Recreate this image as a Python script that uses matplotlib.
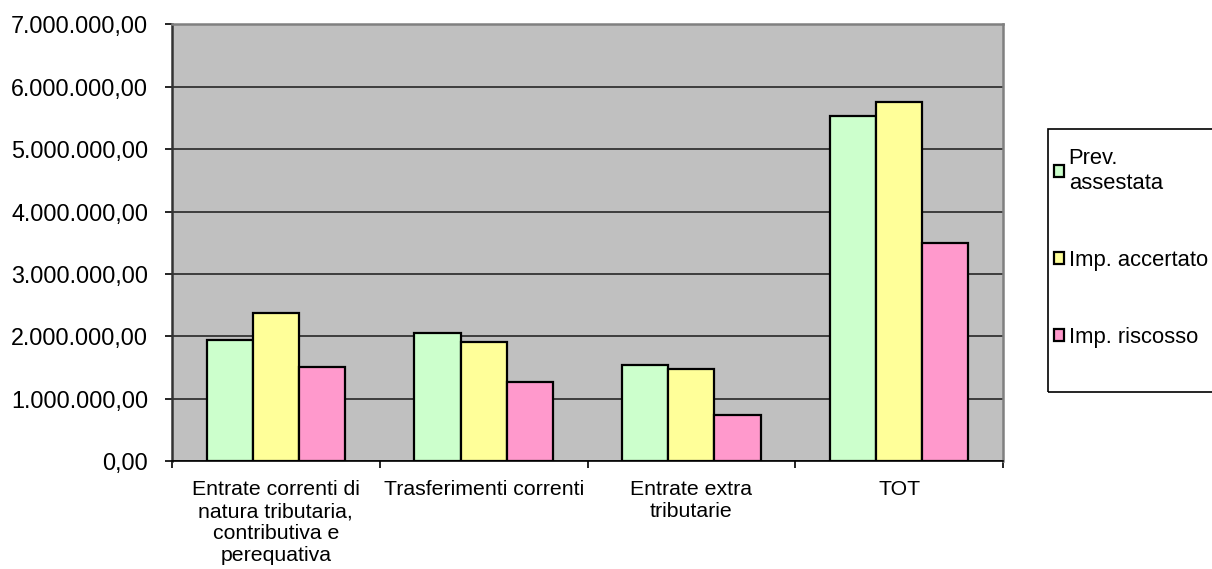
import numpy as np
import matplotlib.pyplot as plt
from matplotlib.patches import Rectangle
from matplotlib.ticker import FuncFormatter, FixedLocator

plt.rcParams['font.family'] = ['Liberation Sans', 'DejaVu Sans']

categorie = ["Entrate correnti di\nnatura tributaria,\ncontributiva e\nperequativa",
             "Trasferimenti correnti",
             "Entrate extra\ntributarie",
             "TOT"]
serie = ["Prev.\nassestata", "Imp. accertato", "Imp. riscosso"]
prev_assestata = [1940000, 2050000, 1540000, 5530000]
imp_accertato = [2370000, 1910000, 1475000, 5755000]
imp_riscosso = [1510000, 1260000, 730000, 3500000]
colori = ["#CCFFCC", "#FFFF99", "#FF99CC"]


def fmt_it(v, pos):
    # formato italiano: 1.000.000,00
    s = "{:,.2f}".format(v)
    return s.replace(",", "X").replace(".", ",").replace("X", ".")


fig = plt.figure(figsize=(12.12, 5.69), dpi=100)
ax = fig.add_axes([0.1419, 0.1898, 0.8276 - 0.1419, 0.957 - 0.1898])
ax.set_facecolor("#C0C0C0")

x = np.arange(len(categorie))
w = 0.222
valori = [prev_assestata, imp_accertato, imp_riscosso]
for i in range(3):
    ax.bar(x + (i - 1) * w, valori[i], width=w, color=colori[i],
           edgecolor="black", linewidth=1.6, label=serie[i], zorder=3)

ax.set_xlim(-0.5, len(categorie) - 0.5)
ax.set_ylim(0, 7000000)
ax.set_yticks(np.arange(0, 7000001, 1000000))
ax.yaxis.set_major_formatter(FuncFormatter(fmt_it))
ax.yaxis.grid(True, color="#1a1a1a", linewidth=1.1, zorder=1)
ax.set_axisbelow(True)

ax.set_xticks(x)
ax.set_xticklabels(categorie, fontsize=15.3, linespacing=1.2)
ax.xaxis.set_minor_locator(FixedLocator(np.arange(-0.5, len(categorie), 1.0)))
ax.tick_params(axis="x", which="major", length=0, pad=14)
ax.tick_params(axis="x", which="minor", length=5, width=1.2, color="black")
ax.tick_params(axis="y", length=5, width=1.2, pad=12, labelsize=16.8)

for s in ["top", "right"]:
    ax.spines[s].set_color("#808080")
    ax.spines[s].set_linewidth(1.8)
ax.spines["left"].set_color("#333333")
ax.spines["left"].set_linewidth(1.8)
ax.spines["bottom"].set_color("black")
ax.spines["bottom"].set_linewidth(1.2)

# riquadro legenda (esce dal bordo destro come nell'originale)
W, H = 1212.0, 569.0
fig.patches.append(Rectangle((1048 / W, 1 - 392 / H), 200 / W, 263 / H,
                             transform=fig.transFigure, fill=False,
                             edgecolor="black", linewidth=1.2, clip_on=False))

leg = fig.legend(loc="upper left", bbox_to_anchor=(1050 / W, 1 - 144 / H),
                 fontsize=15.8, frameon=False,
                 handlelength=0.45, handleheight=0.45, handletextpad=0.2,
                 labelspacing=2.55, borderpad=0.2, borderaxespad=0)
for h in leg.legend_handles:
    h.set_linewidth(1.6)

plt.savefig("out.png", dpi=100)
